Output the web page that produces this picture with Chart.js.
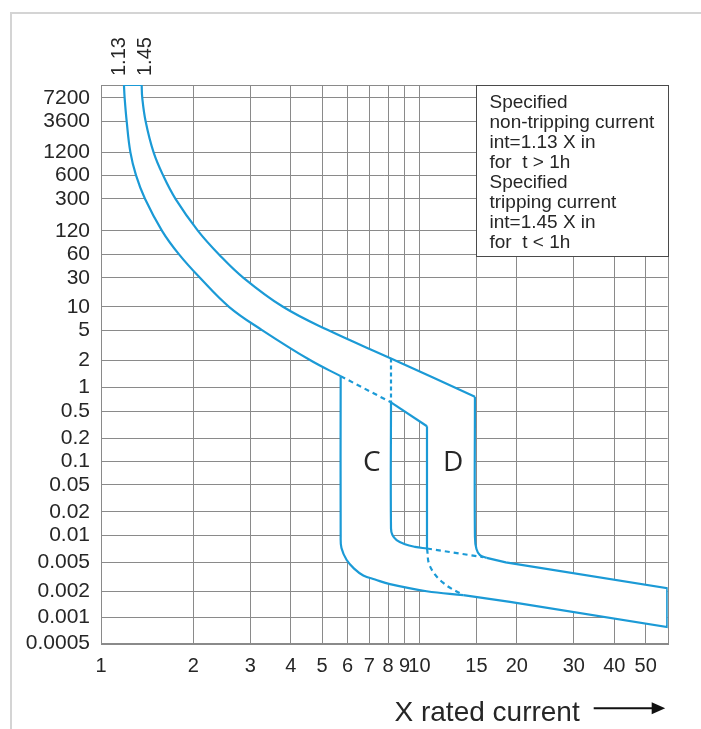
<!DOCTYPE html>
<html lang="en">
<head>
<meta charset="UTF-8">
<title>Tripping characteristic C / D</title>
<script src="https://cdn.jsdelivr.net/npm/chart.js"></script>
<style>
  * { margin: 0; padding: 0; box-sizing: border-box; }
  html, body { width: 701px; height: 729px; background: #fff; overflow: hidden; }
  .frame {
    position: absolute; left: 10px; top: 12px; width: 700px; height: 730px;
    border-left: 2px solid #d4d4d4; border-top: 2px solid #d4d4d4;
  }
  .wrap { position: absolute; left: 0; top: 0; width: 701px; height: 729px; }
</style>
</head>
<body>
<div class="frame"></div>
<div class="wrap"><canvas id="chart"></canvas></div>
<script>
// axis ticks: time in seconds and multiples of rated current
const yTicks = [7200, 3600, 1200, 600, 300, 120, 60, 30, 10, 5, 2, 1, 0.5, 0.2, 0.1, 0.05, 0.02, 0.01, 0.005, 0.002, 0.001, 0.0005];
const xTicks = [1, 2, 3, 4, 5, 6, 7, 8, 9, 10, 15, 20, 30, 40, 50];
const xMin = 1.037, xMax = 58.5, tTop = 10500;
const topLabels = ['1.13', '1.45'];

// the printed time grid is uneven: relative gap between neighbouring time labels
const rowSpacing = [23.6, 30.7, 23, 23.7, 32, 23.6, 23.4, 29, 23.3, 30, 27.3, 23.7, 27.3, 23.2, 23.3, 27, 23.2, 27.3, 28.9, 25.8, 26.7];

// thermal band: non-tripping (lower) and tripping (upper) edge
const nonTripX = [1.221, 1.227, 1.245, 1.278, 1.330, 1.418, 1.601, 1.807, 2.097, 2.578, 3.262, 4.587, 5.708];
const nonTripT = [10500, 7200, 3600, 1200, 600, 300, 120, 60, 30, 10, 5, 2, 1.33];
const tripX = [1.385, 1.391, 1.425, 1.507, 1.612, 1.762, 2.068, 2.401, 2.858, 3.786, 5.214, 8.166, 14.84];
const tripT = [10500, 7200, 3600, 1200, 600, 300, 120, 60, 30, 10, 5, 2.1, 0.76];
// non-tripping edge inside the C/D area
const thermDashX = [5.708, 8.166];
const thermDashT = [1.33, 0.645];
const thermEndX = [8.166, 10.55];
const thermEndT = [0.645, 0.30];

// C curve
const cLeftX = [5.708, 5.708, 5.74, 5.957, 6.28, 6.705, 7.29, 8.107, 10.52, 13.66];
const cLeftT = [1.33, 0.0096, 0.0072, 0.0053, 0.0041, 0.0033, 0.0029, 0.0025, 0.0020, 0.0018];
const cRightX = [10.55, 10.55];
const cRightT = [0.30, 0.0071];
const cArcX = [10.55, 10.78, 11.85, 13.66];
const cArcT = [0.0071, 0.0044, 0.0026, 0.0018];

// D curve
const dDotX = [8.166, 8.166];
const dDotT = [2.1, 0.645];
const dLeftX = [8.166, 8.166, 8.25, 8.50, 9.02, 9.69, 10.55];
const dLeftT = [0.645, 0.0122, 0.01, 0.0088, 0.0079, 0.0074, 0.0071];
const dFloorX = [10.55, 15.75];
const dFloorT = [0.0071, 0.0057];
const dRightX = [14.84, 14.84, 15.0, 15.38, 16.13];
const dRightT = [0.76, 0.0096, 0.0070, 0.0060, 0.0056];

// instantaneous tails, closed at the right end
const tailX = [13.66, 19.05, 58.3, 58.3, 18.48, 16.13];
const tailT = [0.0018, 0.0015, 0.00077, 0.0022, 0.005, 0.0056];

const noteLines = ['Specified', 'non-tripping current', 'int=1.13 X in', 'for  t > 1h',
  'Specified', 'tripping current', 'int=1.45 X in', 'for  t < 1h'];
const regionLabels = ['C', 'D'];
const regionX = [7.12, 12.72];
const regionT = [0.095, 0.095];

const blue = '#1b9ad6';
const gridColor = '#8a8a8a';
const textColor = '#262626';
const family = '"Liberation Sans", Arial, sans-serif';

// running position of each time label along the axis
const rowPos = [0];
rowSpacing.forEach((g, i) => rowPos.push(rowPos[i] + g));

// seconds -> position on the time axis (log between neighbouring labels)
function toRow(t) {
  const L = Math.log10(t);
  let i = 0;
  while (i < yTicks.length - 2 && L < Math.log10(yTicks[i + 1])) i++;
  const a = Math.log10(yTicks[i]), b = Math.log10(yTicks[i + 1]);
  return rowPos[i] + rowSpacing[i] * (a - L) / (a - b);
}
const pts = (xs, ts) => xs.map((x, i) => ({ x, y: toRow(ts[i]) }));
const rev = a => a.slice().reverse();

// white body of the bands, with the C/D overlap left open
const outline = [
  ...pts(tripX, tripT),
  ...pts(dRightX, dRightT),
  ...rev(pts(tailX, tailT)),
  ...rev(pts(cLeftX, cLeftT)),
  ...pts(thermDashX, thermDashT),
  ...pts(dLeftX, dLeftT),
  ...rev(pts(cRightX, cRightT)),
  ...rev(pts(thermEndX, thermEndT)),
  ...rev(pts(thermDashX, thermDashT)),
  ...rev(pts(nonTripX, nonTripT))
];

function line(data, extra) {
  return Object.assign({
    data, showLine: true, borderColor: blue, borderWidth: 2.2,
    pointRadius: 0, fill: false, tension: 0
  }, extra);
}
const curve = { tension: 0.4 };
const dashed = { borderDash: [5, 4] };

const frame = {
  id: 'frame',
  beforeDatasetsDraw(chart) {
    const { ctx, chartArea: a } = chart;
    ctx.save();
    ctx.strokeStyle = gridColor;
    ctx.lineWidth = 1;
    ctx.strokeRect(Math.round(a.left) + 0.5, Math.round(a.top) + 0.5, Math.round(a.right - a.left), Math.round(a.bottom - a.top));
    ctx.restore();
  }
};

const notes = {
  id: 'notes',
  afterDatasetsDraw(chart) {
    const { ctx, chartArea: a, scales: { x, y } } = chart;

    // spec box in the upper right corner
    const x0 = Math.round(x.getPixelForValue(15)) + 0.5;
    const y0 = Math.round(a.top) + 0.5;
    const y1 = Math.round(y.getPixelForValue(toRow(60)) + 2) + 0.5;
    const x1 = Math.round(a.right) + 0.5;
    ctx.save();
    ctx.fillStyle = '#fff';
    ctx.fillRect(x0, y0, x1 - x0, y1 - y0);
    ctx.strokeStyle = '#4a4a4a';
    ctx.lineWidth = 1;
    ctx.strokeRect(x0, y0, x1 - x0, y1 - y0);
    ctx.fillStyle = textColor;
    ctx.font = '19px ' + family;
    ctx.textAlign = 'left';
    ctx.textBaseline = 'middle';
    noteLines.forEach((s, i) => ctx.fillText(s, x0 + 13, y0 + 17 + i * 20));

    // C / D
    ctx.font = '28px "Open Sans", ' + family;
    ctx.textAlign = 'center';
    regionLabels.forEach((s, i) => {
      ctx.fillText(s, x.getPixelForValue(regionX[i]), y.getPixelForValue(toRow(regionT[i])));
    });

    // 1.13 / 1.45 above the thermal band
    ctx.font = '20px ' + family;
    ctx.textAlign = 'left';
    [nonTripX[0], tripX[0]].forEach((v, i) => {
      ctx.save();
      ctx.translate(x.getPixelForValue(v) + (i ? 4 : -4), a.top - 9);
      ctx.rotate(-Math.PI / 2);
      ctx.fillText(topLabels[i], 0, 0);
      ctx.restore();
    });

    // axis caption with arrow
    ctx.font = '28px ' + family;
    ctx.textAlign = 'right';
    ctx.textBaseline = 'alphabetic';
    ctx.fillText('X rated current', a.right - 88, a.bottom + 77);
    const ay = a.bottom + 64.6;
    ctx.strokeStyle = '#111';
    ctx.lineWidth = 2;
    ctx.beginPath();
    ctx.moveTo(a.right - 74, ay);
    ctx.lineTo(a.right - 14, ay);
    ctx.stroke();
    ctx.fillStyle = '#111';
    ctx.beginPath();
    ctx.moveTo(a.right - 16, ay - 6);
    ctx.lineTo(a.right - 2.5, ay);
    ctx.lineTo(a.right - 16, ay + 6);
    ctx.closePath();
    ctx.fill();
    ctx.restore();
  }
};

Chart.defaults.font.family = family;

new Chart(document.getElementById('chart'), {
  type: 'scatter',
  data: {
    datasets: [
      line(pts(nonTripX, nonTripT), curve),
      line(pts(tripX, tripT), curve),
      line([{ x: nonTripX[0], y: toRow(tTop) }, { x: tripX[0], y: toRow(tTop) }]),
      line(pts(thermDashX, thermDashT), dashed),
      line(pts(thermEndX, thermEndT)),
      line(pts(cLeftX, cLeftT), curve),
      line(pts(cRightX, cRightT)),
      line(pts(cArcX, cArcT), Object.assign({}, curve, dashed)),
      line(pts(dDotX, dDotT), { borderDash: [4, 3] }),
      line(pts(dLeftX, dLeftT), curve),
      line(pts(dFloorX, dFloorT), dashed),
      line(pts(dRightX, dRightT), curve),
      line(pts(tailX, tailT)),
      line(outline, { borderColor: 'rgba(0,0,0,0)', borderWidth: 0, backgroundColor: '#fff', fill: 'shape' })
    ]
  },
  options: {
    responsive: true,
    maintainAspectRatio: false,
    animation: false,
    events: [],
    layout: { padding: { top: 85, right: 33.3, left: 0, bottom: 0 } },
    plugins: {
      legend: { display: false },
      tooltip: { enabled: false },
      filler: { drawTime: 'beforeDatasetsDraw' }
    },
    scales: {
      x: {
        type: 'logarithmic',
        min: xMin,
        max: xMax,
        grid: { color: gridColor, drawTicks: false },
        border: { color: gridColor },
        afterBuildTicks: s => { s.ticks = xTicks.map(v => ({ value: Math.max(v, xMin) })); },
        afterFit: s => { s.height = 85.3; },
        ticks: {
          autoSkip: false, maxRotation: 0, padding: 11, color: textColor,
          font: { size: 20 },
          callback: (v, i) => String(xTicks[i])
        }
      },
      y: {
        type: 'linear',
        reverse: true,
        min: toRow(tTop),
        max: rowPos[rowPos.length - 1],
        grid: { color: gridColor, drawTicks: false },
        border: { color: gridColor },
        afterBuildTicks: s => { s.ticks = rowPos.map(p => ({ value: p })); },
        afterFit: s => { s.width = 101; },
        ticks: {
          autoSkip: false, padding: 11, color: textColor,
          font: { size: 21 },
          callback: (v, i) => String(yTicks[i])
        }
      }
    }
  },
  plugins: [frame, notes]
});
</script>
</body>
</html>
